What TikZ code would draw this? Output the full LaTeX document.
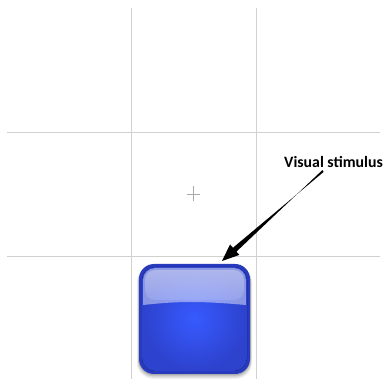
\documentclass[tikz,border=0pt]{standalone}
\usepackage{fontspec}
\setmainfont{Carlito}
\usetikzlibrary{arrows.meta,calc}
\definecolor{gridc}{RGB}{208,208,208}
\definecolor{crossc}{RGB}{170,170,170}
\definecolor{bdark}{RGB}{40,58,190}
\definecolor{bmid}{RGB}{55,90,255}
\definecolor{bedge}{RGB}{45,66,205}
\tikzset{gridline/.style={draw=gridc,line width=0.9pt},
  crossline/.style={draw=crossc,line width=0.6pt},
  pointer/.style={fill=black}}
\begin{document}
\begin{tikzpicture}[x=1pt,y=-1pt]
\useasboundingbox (0,0) rectangle (386,379);
\fill[white] (0,0) rectangle (386,379);
% grid
\draw[gridline] (7,132) -- (380,132);
\draw[gridline] (7,256) -- (380,256);
\draw[gridline] (131.5,8) -- (131.5,379);
\draw[gridline] (256,8) -- (256,379);
% fixation cross
\coordinate (fix) at (193,194);
\draw[crossline] ([xshift=-6.5pt]fix) -- ([xshift=6.5pt]fix);
\draw[crossline] ([yshift=-7.5pt]fix) -- ([yshift=7.5pt]fix);
% shadow
\foreach \o/\a in {4/0.06,3/0.08,2/0.1,1/0.12}{
  \fill[black,opacity=\a,rounded corners=16pt] (139-\o*0.5,266) rectangle (250+\o*0.5,374+\o*1.2);
}
% square
\fill[bdark,rounded corners=15pt] (139,264) rectangle (250,374);
\fill[rounded corners=13pt,inner color=bmid,outer color=bedge] (142,267) rectangle (247,371);
\node[minimum width=111pt,minimum height=110pt,inner sep=0pt] (stim) at (194.5,319) {};
% gloss highlight
\begin{scope}
\clip[rounded corners=12pt] (143,268) rectangle (246,330);
\fill[white,opacity=0.45] (143,268) -- (246,268) -- (246,305) .. controls (200,301) and (180,301) .. (143,305) -- cycle;
\end{scope}
\shade[top color=white,bottom color=white!60!bmid,opacity=0.3,rounded corners=10pt] (145,270) rectangle (244,300);
% label
\node[font=\bfseries\fontsize{15.8}{18}\selectfont,anchor=center] (lbl) at (333.5,162) {Visual stimulus};
% tapered arrow
\coordinate (tail) at (323,171);
\coordinate (tip) at (222,261);
\coordinate (base) at ($(tip)!17pt!(tail)$);
\fill[pointer] ($(tail)!1.1pt!90:(tip)$) -- ($(base)!2.6pt!-90:(tip)$) -- ($(base)!7pt!-90:(tip)$) -- (tip)
  -- ($(base)!7pt!90:(tip)$) -- ($(base)!2.6pt!90:(tip)$) -- ($(tail)!1.1pt!-90:(tip)$) -- cycle;
\end{tikzpicture}
\end{document}
